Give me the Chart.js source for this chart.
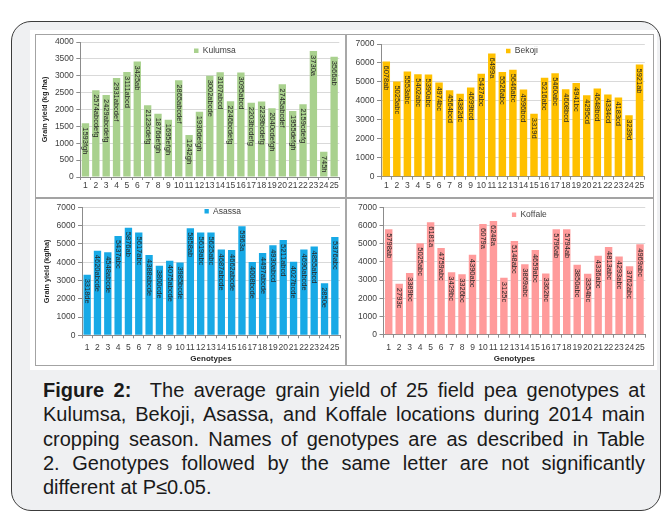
<!DOCTYPE html>
<html>
<head>
<meta charset="utf-8">
<script src="https://cdn.jsdelivr.net/npm/chart.js@4.4.1/dist/chart.umd.min.js"></script>
<style>
  html, body { margin: 0; padding: 0; background: #fff; width: 666px; height: 516px; overflow: hidden;
    font-family: "Liberation Sans", Arial, sans-serif; }
  #frame { position: absolute; left: 11px; top: 21px; width: 650px; height: 490px; box-sizing: border-box;
    border: 1.5px solid #3c3c3c; border-radius: 20px; background: #eff0f2; }
  #sheet { position: absolute; left: 30px; top: 30px; width: 627px; height: 340px; background: #fff; }
  .panel { position: absolute; box-sizing: border-box; border: 1px solid #a3a3a3; background: #fff; }
  .panel.right { border-left: 2px solid #a8a8a8; }
  canvas.plot { position: absolute; }
  #caption { position: absolute; left: 43px; top: 378px; width: 602px; color: #1a1a1a;
    font-size: 20px; line-height: 24.3px; }
  #caption div { text-align: justify; text-align-last: justify; white-space: nowrap; }
  #caption div.last { text-align: left; text-align-last: left; }
</style>
</head>
<body>
<div id="frame"></div>
<div id="sheet"></div>

<div class="panel" style="left:35px;top:34px;width:311px;height:164px;"></div>
<div class="panel right" style="left:345px;top:34px;width:309px;height:164px;"></div>
<div class="panel" style="left:35px;top:198px;width:311px;height:168px;"></div>
<div class="panel right" style="left:345px;top:198px;width:309px;height:168px;"></div>

<canvas id="kulumsa" class="plot" width="310" height="164" style="left:35px;top:34px;"></canvas>
<canvas id="bekoji" class="plot" width="308" height="164" style="left:346px;top:34px;"></canvas>
<canvas id="asassa" class="plot" width="310" height="168" style="left:35px;top:198px;"></canvas>
<canvas id="koffale" class="plot" width="308" height="168" style="left:346px;top:198px;"></canvas>

<div id="caption">
  <div><b>Figure 2:</b>&nbsp; The average grain yield of 25 field pea genotypes at</div>
  <div>Kulumsa, Bekoji, Asassa, and Koffale locations during 2014 main</div>
  <div>cropping season. Names of genotypes are as described in Table</div>
  <div>2. Genotypes followed by the same letter are not significantly</div>
  <div class="last">different at P≤0.05.</div>
</div>

<script>
// Genotype numbers on the category axis
const genotypes = ['1','2','3','4','5','6','7','8','9','10','11','12','13','14','15','16','17','18','19','20','21','22','23','24','25'];

// Mean grain yield (kg/ha) per genotype and mean-separation letters, by location
const kulumsaYield = [1593, 2574, 2429, 2931, 3111, 3425, 2123, 1876, 1695, 2865, 1242, 1930, 3002, 3107, 2246, 3095, 2203, 2239, 2040, 2745, 1955, 2159, 3730, 745, 3566];
const kulumsaGroups = ['fgh','abcdefg','abcdefg','abcdef','abcd','ab','cdefg','defgh','efgh','abcdef','gh','defgh','abcde','abcd','bcdefg','abcd','bcdefg','bcdefg','cdefgh','abcdef','defgh','cdefg','a','h','ab'];

const bekojiYield = [6078, 5025, 5553, 5402, 5390, 4974, 4564, 4382, 4699, 5427, 6499, 5526, 5646, 4596, 3319, 5216, 5460, 4608, 4941, 4295, 4648, 4334, 4183, 3239, 5921];
const bekojiGroups = ['ab','abc','abc','abc','abc','bc','bcd','dc','bcd','abc','a','abc','abc','bcd','d','abc','abc','bcd','bc','cd','bcd','cd','cd','d','ab'];

const asassaYield = [3318, 4620, 4548, 5437, 5876, 5617, 4388, 3800, 4075, 3985, 5858, 5619, 5625, 4687, 4662, 5963, 4008, 4497, 4930, 5211, 4027, 4690, 4855, 2850, 5376];
const asassaGroups = ['de','abcde','abcde','abc','ab','abc','abcde','cde','abcde','bcde','ab','abc','abc','abcde','abcde','a','bcde','abcde','abcd','abcd','bcde','abcde','abcd','e','abc'];

const koffaleYield = [5798, 2793, 3389, 5025, 6181, 4759, 3429, 3326, 4390, 6079, 6248, 3125, 5148, 3869, 4659, 3362, 5796, 5794, 3850, 3354, 4336, 4813, 4293, 3762, 4969];
const koffaleGroups = ['ab','c','bc','abc','a','abc','bc','bc','abc','a','a','c','abc','abc','abc','bc','ab','ab','abc','bc','abc','abc','abc','abc','abc'];

Chart.defaults.font.family = '"Liberation Sans", Arial, sans-serif';
Chart.defaults.color = '#404040';

// Vertical value + letter labels, written downward from the top of each bar
const barLabels = {
  id: 'barLabels',
  afterDatasetsDraw(chart, args, opts) {
    const ctx = chart.ctx;
    const meta = chart.getDatasetMeta(0);
    const values = chart.data.datasets[0].data;
    ctx.save();
    ctx.font = opts.size + 'px "Liberation Sans", Arial, sans-serif';
    ctx.fillStyle = '#262626';
    ctx.textAlign = 'left';
    ctx.textBaseline = 'middle';
    meta.data.forEach((bar, i) => {
      ctx.save();
      ctx.translate(bar.x, bar.y + opts.offset);
      ctx.rotate(Math.PI / 2);
      ctx.fillText(values[i] + opts.groups[i], 0, 0);
      ctx.restore();
    });
    ctx.restore();
  }
};

// Puts the series key at a fixed spot inside the plot
const legendSpot = {
  id: 'legendSpot',
  afterLayout(chart, args, opts) {
    const lg = chart.legend;
    if (!lg) return;
    lg.left = opts.x; lg.right = opts.x + 90;
    lg.top = opts.y; lg.bottom = opts.y + 20;
  }
};

function drawPanel(id, cfg) {
  const axisGrey = '#8c8c8c';
  new Chart(document.getElementById(id), {
    type: 'bar',
    data: {
      labels: genotypes,
      datasets: [{
        label: cfg.name,
        data: cfg.values,
        backgroundColor: cfg.color,
        borderWidth: 0,
        categoryPercentage: 1,
        barPercentage: 0.71
      }]
    },
    options: {
      responsive: false,
      animation: false,
      devicePixelRatio: 1,
      layout: { padding: { top: cfg.top, right: cfg.right, left: 0, bottom: 0 } },
      plugins: {
        legend: {
          position: 'chartArea', align: 'start',
          labels: { boxWidth: 4.5, boxHeight: 4.5, padding: 0, color: '#404040', font: { size: 8.5 } }
        },
        tooltip: { enabled: false },
        barLabels: { groups: cfg.groups, size: 7.5, offset: 4 },
        legendSpot: { x: cfg.legendX, y: cfg.legendY - 4.25 }
      },
      scales: {
        x: {
          grid: { display: true, drawOnChartArea: false, offset: true, tickLength: 3, tickColor: axisGrey },
          border: { color: axisGrey },
          ticks: { autoSkip: false, maxRotation: 0, minRotation: 0, padding: cfg.xPad, font: { size: 8.5 }, color: '#404040' },
          title: cfg.xTitle
            ? { display: true, text: cfg.xTitle, font: { size: 8, weight: 'bold' }, color: '#262626', padding: { top: 0, bottom: 2.2 } }
            : { display: false },
          afterFit: s => { s.height = cfg.xh; }
        },
        y: {
          min: 0, max: cfg.yMax,
          ticks: { stepSize: cfg.step, padding: 2.5, font: { size: 8.5 }, color: '#404040',
                   callback: v => String(v) },
          grid: { color: '#d9d9d9', tickLength: 4, tickColor: axisGrey },
          border: { color: axisGrey },
          title: cfg.yTitle
            ? { display: true, text: cfg.yTitle, font: { size: 7.3, weight: 'bold' }, color: '#262626', padding: { top: cfg.yTitlePad, bottom: 0 } }
            : { display: false },
          afterFit: s => { s.width = cfg.yw; }
        }
      }
    },
    plugins: [barLabels, legendSpot]
  });
}

drawPanel('kulumsa', {
  name: 'Kulumsa', values: kulumsaYield, groups: kulumsaGroups, color: '#a9d18e',
  yMax: 4000, step: 500, yTitle: 'Grain yield (kg /ha)', yTitlePad: 5.7,
  top: 8, right: 5.7, yw: 45.3, xh: 21, xPad: 1, legendX: 159, legendY: 16.7
});
drawPanel('bekoji', {
  name: 'Bekoji', values: bekojiYield, groups: bekojiGroups, color: '#ffc000',
  yMax: 7000, step: 1000,
  top: 10, right: 9.2, yw: 35, xh: 21.3, xPad: 1, legendX: 160, legendY: 17
});
drawPanel('asassa', {
  name: 'Asassa', values: asassaYield, groups: asassaGroups, color: '#17a9e6',
  yMax: 7000, step: 1000, yTitle: 'Grain yield (kg/ha)', yTitlePad: 7.2, xTitle: 'Genotypes',
  top: 9.3, right: 5, yw: 47, xh: 30.7, xPad: 4.5, legendX: 169.3, legendY: 13.3
});
drawPanel('koffale', {
  name: 'Koffale', values: koffaleYield, groups: koffaleGroups, color: '#ff9b9b',
  yMax: 7000, step: 1000, xTitle: 'Genotypes',
  top: 9.3, right: 8.75, yw: 37.5, xh: 31.3, xPad: 4.5, legendX: 165.7, legendY: 16.7
});
</script>
</body>
</html>
